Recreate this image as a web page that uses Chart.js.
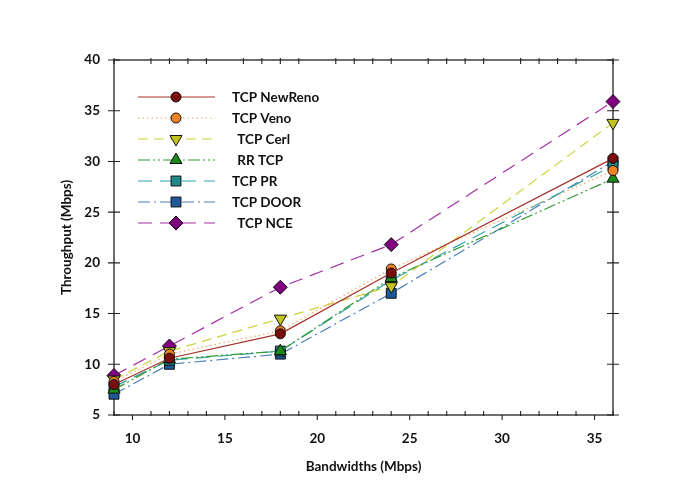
<!DOCTYPE html>
<html>
<head>
<meta charset="utf-8">
<script src="https://cdn.jsdelivr.net/npm/chart.js@4.4.1/dist/chart.umd.min.js"></script>
<style>
  html, body { margin: 0; padding: 0; background: #fff; }
  #wrap { width: 685px; height: 498px; }
</style>
</head>
<body>
<div id="wrap"><canvas id="c" width="685" height="498"></canvas></div>
<script>
// ---- data ----
const bandwidths = [9, 12, 18, 24, 36];
const seriesNames = ['TCP NewReno', 'TCP Veno', ' TCP Cerl', ' RR TCP', 'TCP PR', 'TCP DOOR', ' TCP NCE'];
const newReno = [8.0, 10.6, 13.0, 19.0, 30.3];
const veno    = [8.3, 11.0, 13.3, 19.4, 29.1];
const cerl    = [8.5, 11.3, 14.5, 17.7, 33.8];
const rrTcp   = [7.5, 10.5, 11.3, 18.5, 28.3];
const pr      = [7.8, 10.4, 11.3, 18.3, 29.6];
const door    = [7.05, 10.0, 11.0, 17.0, 30.0];
const nce     = [8.9, 11.8, 17.6, 21.8, 35.9];
const xTickLabels = [10, 15, 20, 25, 30, 35];
const yTickLabels = [5, 10, 15, 20, 25, 30, 35, 40];

const FONT = 'Lato, "Open Sans", sans-serif';

function mk(label, data, line, fill, dash, style, radius, rotation, width) {
  return {
    label, data: bandwidths.map((x, i) => ({ x, y: data[i] })),
    borderColor: line, backgroundColor: fill, borderDash: dash,
    borderWidth: width || 1.2,
    pointStyle: style, pointRadius: radius, pointRotation: rotation || 0,
    pointBackgroundColor: fill, pointBorderColor: '#111', pointBorderWidth: 1,
    tension: 0, clip: false
  };
}

const datasets = [
  mk(seriesNames[0], newReno, '#a8322c', '#7a0c0c', [], 'circle', 5),
  mk(seriesNames[1], veno, '#f2a85a', '#f08424', [1.5, 3], 'circle', 5),
  mk(seriesNames[2], cerl, '#cfd23e', '#c4c41e', [10, 6], 'triangle', 7, 180),
  mk(seriesNames[3], rrTcp, '#2f9a2f', '#1a8a1a', [12, 3, 2, 3, 2, 3], 'triangle', 7, 0),
  mk(seriesNames[4], pr, '#2ea3a8', '#1f8a8a', [14, 8], 'rect', 7),
  mk(seriesNames[5], door, '#4a7fb8', '#1d5898', [12, 4, 2, 4], 'rect', 7),
  mk(seriesNames[6], nce, '#a42ea4', '#800080', [14, 8], 'rectRot', 7)
];

const framePlugin = {
  id: 'frameTicks',
  beforeDatasetsDraw(chart) {
    const { ctx, chartArea: a, scales } = chart;
    ctx.save();
    ctx.strokeStyle = '#222';
    ctx.lineWidth = 1.3;
    ctx.strokeRect(a.left, a.top, a.right - a.left, a.bottom - a.top);
    ctx.lineWidth = 1.1;
    ctx.beginPath();
    scales.x.ticks.forEach(t => {
      const px = scales.x.getPixelForValue(t.value);
      const major = xTickLabels.includes(t.value);
      if (major) {
        ctx.moveTo(px, a.bottom); ctx.lineTo(px, a.bottom + 5);
      } else {
        ctx.moveTo(px, a.bottom - 4); ctx.lineTo(px, a.bottom + 1);
        ctx.moveTo(px, a.top - 2); ctx.lineTo(px, a.top + 4);
      }
    });
    scales.y.ticks.forEach(t => {
      const py = scales.y.getPixelForValue(t.value);
      ctx.moveTo(a.left - 6, py); ctx.lineTo(a.left + 6, py);
      ctx.moveTo(a.right - 6, py); ctx.lineTo(a.right + 6, py);
    });
    ctx.stroke();
    ctx.restore();
  },
  afterDraw(chart) {
    const { ctx } = chart;
    const x0 = 138, x1 = 215, xm = 176, xt = 232, y0 = 97, dy = 21;
    ctx.save();
    chart.data.datasets.forEach((ds, i) => {
      const y = y0 + i * dy;
      ctx.strokeStyle = ds.borderColor;
      ctx.lineWidth = ds.borderWidth;
      ctx.setLineDash(ds.borderDash);
      ctx.beginPath(); ctx.moveTo(x0, y); ctx.lineTo(x1, y); ctx.stroke();
      ctx.setLineDash([]);
      ctx.fillStyle = ds.pointBackgroundColor;
      ctx.strokeStyle = ds.pointBorderColor;
      ctx.lineWidth = ds.pointBorderWidth;
      Chart.helpers.drawPoint(ctx, {
        pointStyle: ds.pointStyle, rotation: ds.pointRotation,
        radius: ds.pointRadius, borderWidth: ds.pointBorderWidth
      }, xm, y);
      ctx.fillStyle = '#111';
      ctx.font = 'bold 13.5px ' + FONT;
      ctx.textBaseline = 'middle';
      ctx.textAlign = 'left';
      ctx.fillText(ds.label, xt + (ds.label.startsWith(' ') ? 2 : 0), y + 1);
    });
    ctx.restore();
  }
};

new Chart(document.getElementById('c'), {
  type: 'line',
  data: { datasets },
  options: {
    responsive: false,
    animation: false,
    layout: { padding: { left: 55, right: 72, top: 60, bottom: 19 } },
    plugins: { legend: { display: false }, tooltip: { enabled: false } },
    scales: {
      x: {
        type: 'linear', min: 9, max: 36,
        afterFit(s) { s.height = 64; },
        ticks: {
          stepSize: 1, autoSkip: false, maxRotation: 0,
          color: '#111', font: { family: FONT, size: 13.5, weight: 'bold' },
          padding: 8,
          callback: v => (xTickLabels.includes(v) ? String(v) : '')
        },
        grid: { display: false },
        border: { display: false },
        title: {
          display: true, text: 'Bandwidths (Mbps)', color: '#111',
          font: { family: FONT, size: 13.5, weight: 'bold' }, padding: { top: 4, bottom: 4 }
        }
      },
      y: {
        type: 'linear', min: 5, max: 40,
        afterFit(s) { s.width = 59; },
        ticks: {
          stepSize: 5, color: '#111', padding: 6,
          font: { family: FONT, size: 13.5, weight: 'bold' },
          callback: v => (yTickLabels.includes(v) ? String(v) : '')
        },
        grid: { display: false },
        border: { display: false },
        title: {
          display: true, text: 'Throughput (Mbps)', color: '#111',
          font: { family: FONT, size: 13.5, weight: 'bold' }, padding: { top: 4, bottom: 4 }
        }
      }
    }
  },
  plugins: [framePlugin]
});
</script>
</body>
</html>
